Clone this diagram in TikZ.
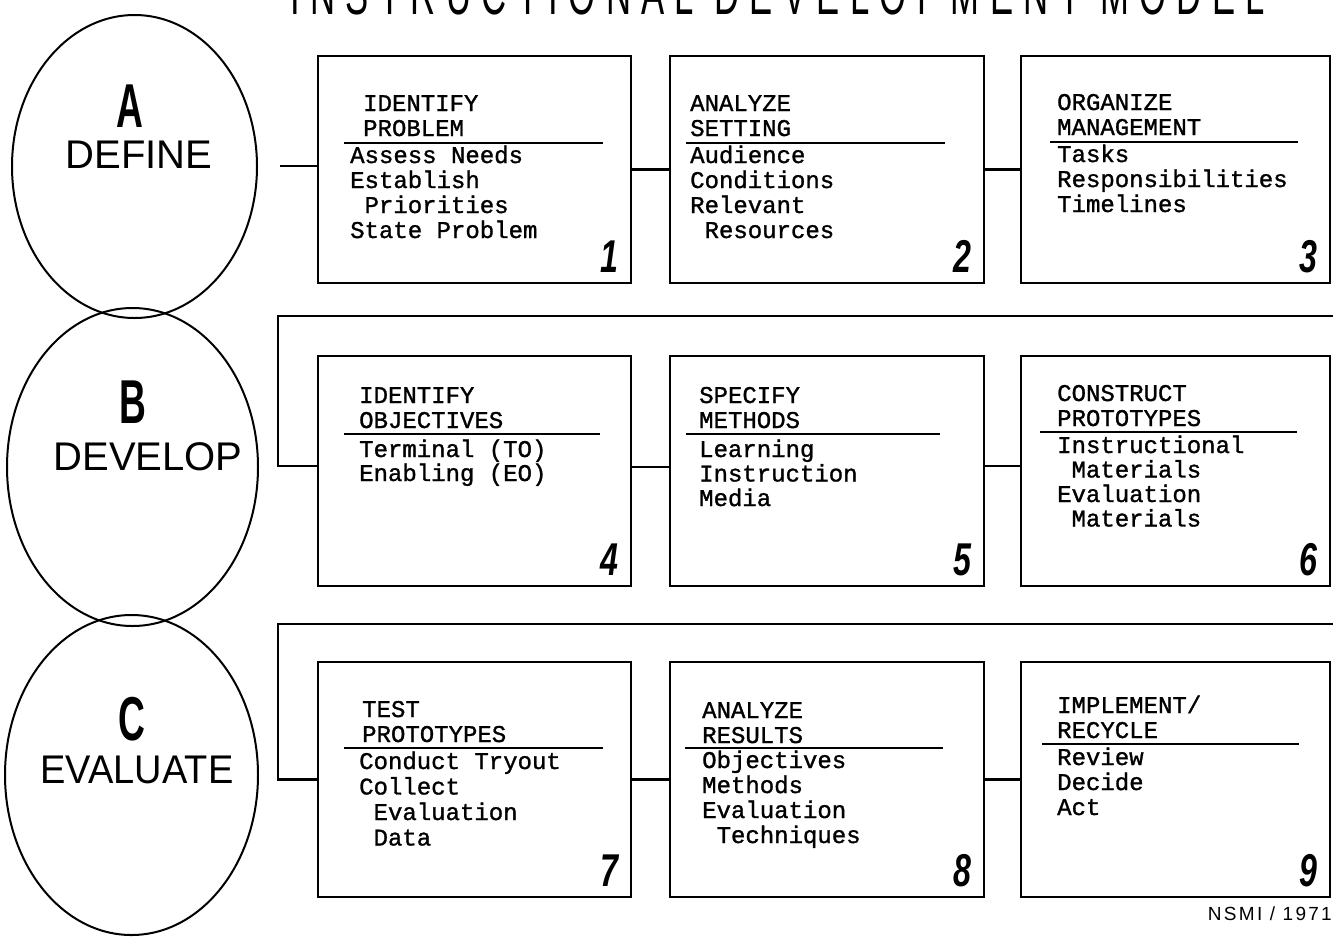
\documentclass[tikz,border=0pt]{standalone}
\usepackage{fontspec}
\setmainfont{Liberation Sans}
\newfontfamily\monofont{Liberation Mono}[FakeBold=1.2]
\usetikzlibrary{shapes.geometric}
\tikzset{
 stepbox/.style={draw, rectangle, line width=2.6pt, inner sep=0pt, outer sep=0pt},
 conn/.style={line width=2.6pt},
 oval/.style={draw, ellipse, line width=2pt, inner sep=0pt, outer sep=0pt},
 txt/.style={anchor=base west, inner sep=0pt, font=\monofont\fontsize{24}{24}\selectfont},
 hr/.style={line width=1.6pt},
 num/.style={anchor=south east, inner sep=0pt, text height=33pt, text depth=0pt, font=\fontsize{46}{46}\selectfont\bfseries\itshape},
 big/.style={inner sep=0pt, text height=44pt, text depth=0pt, font=\fontsize{62}{62}\selectfont\bfseries},
 phase/.style={anchor=base, inner sep=0pt, text height=29pt, text depth=0pt, font=\fontsize{40}{40}\selectfont},
}
\newcommand\boxlines[5]{\foreach \myline [count=\i from 0] in {#5}{\node[txt] (#1\i) at ({#2},{#3+\i*#4}) {\myline};}}
\begin{document}
\begin{tikzpicture}[x=1pt,y=-1pt]
\fill[white] (0,0) rectangle (1333,938);
\useasboundingbox (0,0) rectangle (1333,938);
% cut-off title
\begin{scope}
\clip (0,0) rectangle (1333,938);
\node[anchor=base west, inner sep=0pt] (title) at (290,14) {\resizebox{975pt}{42pt}{\fontsize{40}{40}\selectfont\addfontfeature{LetterSpace=30}INSTRUCTIONAL DEVELOPMENT MODEL}};
\end{scope}
% phases
\node[oval, minimum width=245pt, minimum height=303pt] (A) at (134.5,166.5) {};
\node[oval, minimum width=251pt, minimum height=318pt] (B) at (132.5,467) {};
\node[oval, minimum width=253pt, minimum height=320pt] (C) at (131.5,775) {};
\node[big, anchor=south] (la) at (130,128) {\scalebox{0.6}[1]{A}};
\node[big, anchor=south] (lb) at (133,424) {\scalebox{0.6}[1]{B}};
\node[big, anchor=south] (lc) at (132,741) {\scalebox{0.6}[1]{C}};
\node[phase] (pa) at (139,168) {DEFINE};
\node[phase] (pb) at (148,470) {DEVELOP};
\node[phase] (pc) at (137,783) {\scalebox{0.95}[1]{EVALUATE}};
% boxes
\node[stepbox, minimum width=313pt, minimum height=227pt] (b1) at (474.5,169.5) {};
\node[stepbox, minimum width=314pt, minimum height=227pt] (b2) at (827,169.5) {};
\node[stepbox, minimum width=309pt, minimum height=227pt] (b3) at (1175.5,169.5) {};
\node[stepbox, minimum width=313pt, minimum height=230pt] (b4) at (474.5,471) {};
\node[stepbox, minimum width=314pt, minimum height=230pt] (b5) at (827,471) {};
\node[stepbox, minimum width=309pt, minimum height=230pt] (b6) at (1175.5,471) {};
\node[stepbox, minimum width=313pt, minimum height=235pt] (b7) at (474.5,779.5) {};
\node[stepbox, minimum width=314pt, minimum height=235pt] (b8) at (827,779.5) {};
\node[stepbox, minimum width=309pt, minimum height=235pt] (b9) at (1175.5,779.5) {};
% numbers
\foreach \k in {1,...,9}{\node[num] (n\k) at ([xshift=-12pt,yshift=10pt]b\k.south east) {\scalebox{0.7}[1]{\k}};}
% box texts row 1
\boxlines{ta}{363}{111}{25}{IDENTIFY,PROBLEM}
\draw[hr] (344,143) -- (603,143);
\boxlines{ia}{350}{163}{25}{Assess Needs,Establish,~Priorities,State Problem}
\boxlines{tb}{690}{111}{25}{ANALYZE,SETTING}
\draw[hr] (686,143) -- (945,143);
\boxlines{ib}{690}{163}{25}{Audience,Conditions,Relevant,~Resources}
\boxlines{tc}{1057}{110}{25}{ORGANIZE,MANAGEMENT}
\draw[hr] (1050,142) -- (1298,142);
\boxlines{ic}{1057}{162}{25}{Tasks,Responsibilities,Timelines}
% row 2
\boxlines{td}{359}{403}{25}{IDENTIFY,OBJECTIVES}
\draw[hr] (344,434) -- (600,434);
\boxlines{id}{359}{457}{24}{{Terminal (TO)},{Enabling (EO)}}
\boxlines{te}{699}{403}{25}{SPECIFY,METHODS}
\draw[hr] (686,434) -- (940,434);
\boxlines{ie}{699}{457}{24.5}{Learning,Instruction,Media}
\boxlines{tf}{1057}{401}{25}{CONSTRUCT,PROTOTYPES}
\draw[hr] (1040,432) -- (1297,432);
\boxlines{if}{1057}{453}{24.5}{Instructional,~Materials,Evaluation,~Materials}
% row 3
\boxlines{tg}{362}{717}{25}{TEST,PROTOTYPES}
\draw[hr] (344,748) -- (603,748);
\boxlines{ig}{359}{769}{25.5}{Conduct Tryout,Collect,~Evaluation,~Data}
\boxlines{th}{702}{718}{25}{ANALYZE,RESULTS}
\draw[hr] (685,748) -- (943,748);
\boxlines{ih}{702}{768}{25}{Objectives,Methods,Evaluation,~Techniques}
\boxlines{ti}{1057}{713}{25}{IMPLEMENT/,RECYCLE}
\draw[hr] (1042,744) -- (1299,744);
\boxlines{ii}{1057}{765}{25}{Review,Decide,Act}
% connectors
\coordinate (s1) at (280,166);
\draw[conn] (s1) -- (s1 -| b1.west);
\draw[conn] (b1.east) -- (b2.west);
\draw[conn] (b2.east) -- (b3.west);
\coordinate (e2) at (1333,316);
\coordinate (k2) at (278,316);
\draw[conn] (e2) -- (k2) |- ([yshift=5pt]b4.west);
\draw[conn] ([yshift=4pt]b4.east) -- ([yshift=4pt]b5.west);
\draw[conn] ([yshift=5pt]b5.east) -- ([yshift=5pt]b6.west);
\coordinate (e3) at (1333,624);
\coordinate (k3) at (278,624);
\draw[conn] (e3) -- (k3) |- (b7.west);
\draw[conn] (b7.east) -- (b8.west);
\draw[conn] (b8.east) -- (b9.west);
% credit
\node[anchor=base east, inner sep=0pt, font=\fontsize{19}{19}\selectfont\addfontfeature{LetterSpace=12}] (nsmi) at (1332,920) {NSMI / 1971};
\end{tikzpicture}
\end{document}
